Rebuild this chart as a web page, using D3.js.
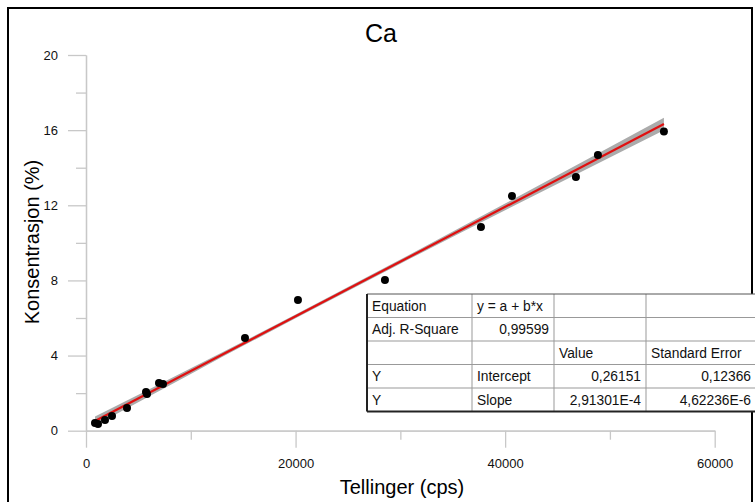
<!DOCTYPE html>
<html>
<head>
<meta charset="utf-8">
<script src="https://cdn.jsdelivr.net/npm/d3@7"></script>
<style>
  body { margin: 0; background: #fff; }
  text { font-family: "Liberation Sans", Arial, sans-serif; }
</style>
</head>
<body>
<div id="chart"></div>
<script>
// measured points (counts per second vs concentration %)
var counts = [860, 1145, 1813, 2481, 3912, 5725, 5821, 6966, 7347, 15172, 20229, 28530, 37690, 40649, 46755, 48855, 55153];
var conc = [0.41, 0.36, 0.57, 0.78, 1.21, 2.06, 1.96, 2.54, 2.49, 4.94, 6.96, 8.02, 10.84, 12.49, 13.50, 14.68, 15.93];

// linear fit y = a + b*x
var intercept = 0.26151;
var slope = 2.91301e-4;

// confidence band half width
var bandX = [860, 10000, 20000, 30000, 40000, 55153];
var bandHalf = [0.24, 0.15, 0.1, 0.11, 0.18, 0.33];

var xTicks = [0, 20000, 40000, 60000];
var xMinor = [10000, 30000, 50000];
var yTicks = [0, 4, 8, 12, 16, 20];
var yMinor = [2, 6, 10, 14, 18];

var tableRows = [
  ['Equation', 'y = a + b*x', '', ''],
  ['Adj. R-Square', '0,99599', '', ''],
  ['', '', 'Value', 'Standard Error'],
  ['Y', 'Intercept', '0,26151', '0,12366'],
  ['Y', 'Slope', '2,91301E-4', '4,62236E-6']
];
var tableAlign = [
  ['start', 'start', 'start', 'start'],
  ['start', 'end', 'start', 'start'],
  ['start', 'start', 'start', 'start'],
  ['start', 'start', 'end', 'end'],
  ['start', 'start', 'end', 'end']
];

var w = 755, h = 502;
var svg = d3.select('#chart').append('svg')
    .attr('width', w)
    .attr('height', h);

svg.append('rect')
    .attr('x', 8).attr('y', 8)
    .attr('width', 744).attr('height', 520)
    .attr('fill', 'none')
    .attr('stroke', '#000')
    .attr('stroke-width', 2);

var x = d3.scaleLinear().domain([0, 60000]).range([86, 714.7]);
var y = d3.scaleLinear().domain([0, 20]).range([430.7, 55]);

var axisColor = '#c8c8c8';

function styleAxis(g) {
  g.selectAll('path, line').attr('stroke', axisColor).attr('stroke-width', 1.3);
  g.selectAll('text').attr('fill', '#111').style('font-size', '13px')
    .style('font-family', '"Liberation Sans", Arial, sans-serif');
}

// x axis
svg.append('g')
    .attr('transform', 'translate(0,' + y(0) + ')')
    .call(d3.axisBottom(x).tickValues(xMinor).tickSize(9).tickSizeOuter(0).tickFormat(''))
    .call(styleAxis);
svg.append('g')
    .attr('transform', 'translate(0,' + y(0) + ')')
    .call(d3.axisBottom(x).tickValues(xTicks).tickSize(17).tickSizeOuter(0).tickPadding(11).tickFormat(d3.format('d')))
    .call(styleAxis);

// y axis
svg.append('g')
    .attr('transform', 'translate(' + x(0) + ',0)')
    .call(d3.axisLeft(y).tickValues(yMinor).tickSize(10).tickSizeOuter(0).tickFormat(''))
    .call(styleAxis);
svg.append('g')
    .attr('transform', 'translate(' + x(0) + ',0)')
    .call(d3.axisLeft(y).tickValues(yTicks).tickSize(18).tickSizeOuter(0).tickPadding(10).tickFormat(d3.format('d')))
    .call(styleAxis);

// confidence band
var band = bandX.map(function(v, i) {
  var f = intercept + slope * v;
  return { x: v, lo: f - bandHalf[i], hi: f + bandHalf[i] };
});
svg.append('path')
    .datum(band)
    .attr('fill', '#ababab')
    .attr('d', d3.area()
      .curve(d3.curveMonotoneX)
      .x(function(d) { return x(d.x); })
      .y0(function(d) { return y(d.lo); })
      .y1(function(d) { return y(d.hi); }));

// fit line
var xExt = d3.extent(counts);
svg.append('path')
    .datum(xExt)
    .attr('fill', 'none')
    .attr('stroke', '#e01010')
    .attr('stroke-width', 2.2)
    .attr('d', d3.line()
      .x(function(d) { return x(d); })
      .y(function(d) { return y(intercept + slope * d); }));

// points
svg.append('g').selectAll('circle')
    .data(counts)
    .enter()
    .append('circle')
    .attr('cx', function(d) { return x(d); })
    .attr('cy', function(d, i) { return y(conc[i]); })
    .attr('r', 4)
    .attr('fill', '#000');

// titles
svg.append('text')
    .attr('x', 381).attr('y', 42)
    .attr('text-anchor', 'middle')
    .style('font-size', '25px')
    .text('Ca');

svg.append('text')
    .attr('x', 402).attr('y', 494)
    .attr('text-anchor', 'middle')
    .style('font-size', '20px')
    .text('Tellinger (cps)');

svg.append('text')
    .attr('transform', 'translate(39,242) rotate(-90)')
    .attr('text-anchor', 'middle')
    .style('font-size', '20px')
    .text('Konsentrasjon (%)');

// results table
var colX = [367, 472, 554, 646, 790];
var rowY = [294, 317.5, 341, 364.5, 388, 411.5];
var table = svg.append('g');

table.append('rect')
    .attr('x', colX[0]).attr('y', rowY[0])
    .attr('width', colX[4] - colX[0]).attr('height', rowY[5] - rowY[0])
    .attr('fill', '#fff');

// grid lines
rowY.slice(1, 5).forEach(function(r) {
  table.append('line')
      .attr('x1', colX[0]).attr('x2', colX[4])
      .attr('y1', r).attr('y2', r)
      .attr('stroke', '#999').attr('stroke-width', 1);
});
colX.slice(1, 4).forEach(function(c) {
  table.append('line')
      .attr('x1', c).attr('x2', c)
      .attr('y1', rowY[0]).attr('y2', rowY[5])
      .attr('stroke', '#999').attr('stroke-width', 1);
});
table.append('line')
    .attr('x1', colX[0]).attr('x2', colX[4])
    .attr('y1', rowY[0]).attr('y2', rowY[0])
    .attr('stroke', '#555').attr('stroke-width', 1);
table.append('line')
    .attr('x1', colX[0]).attr('x2', colX[4])
    .attr('y1', rowY[5]).attr('y2', rowY[5])
    .attr('stroke', '#222').attr('stroke-width', 2);
table.append('line')
    .attr('x1', colX[0]).attr('x2', colX[0])
    .attr('y1', rowY[0]).attr('y2', rowY[5])
    .attr('stroke', '#222').attr('stroke-width', 2);

tableRows.forEach(function(row, ri) {
  row.forEach(function(cell, ci) {
    if (!cell) return;
    var al = tableAlign[ri][ci];
    var right = ci < 3 ? colX[ci + 1] - 5 : 751;
    table.append('text')
        .attr('x', al === 'end' ? right : colX[ci] + 5)
        .attr('y', rowY[ri] + 16.5)
        .attr('text-anchor', al)
        .style('font-size', '13.8px')
        .attr('fill', '#111')
        .text(cell);
  });
});
</script>
</body>
</html>
